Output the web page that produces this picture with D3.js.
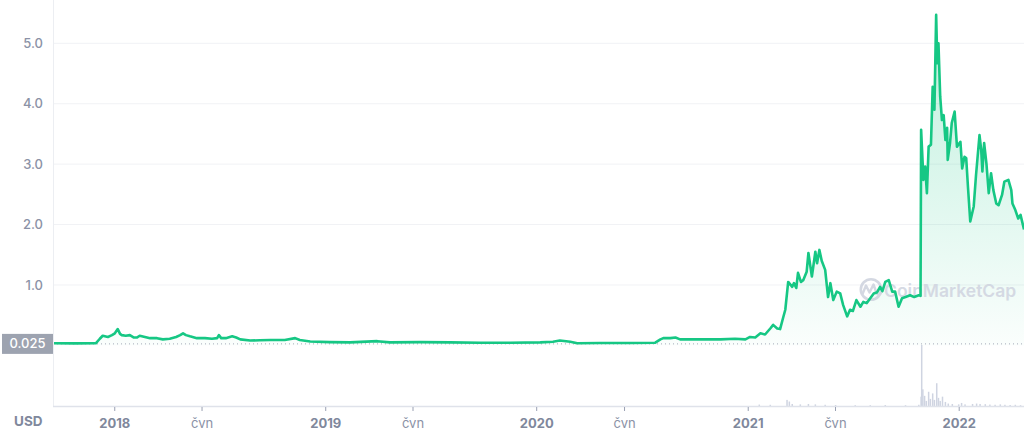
<!DOCTYPE html>
<html><head><meta charset="utf-8">
<script src="https://cdn.jsdelivr.net/npm/d3@7"></script>
<style>
body{margin:0;background:#fff;}
svg{display:block;font-family:Inter,"Noto Sans",sans-serif;}
</style>
</head><body>
<svg id="c" width="1024" height="434"></svg>
<script>
const priceDates = ["2017-09-17","2017-10-25","2017-11-30","2017-12-07","2017-12-12","2017-12-21","2017-12-28","2018-01-02","2018-01-07","2018-01-11","2018-01-14","2018-01-21","2018-01-28","2018-02-04","2018-02-09","2018-02-14","2018-02-23","2018-03-04","2018-03-16","2018-03-26","2018-04-07","2018-04-18","2018-04-25","2018-04-30","2018-05-05","2018-05-12","2018-05-24","2018-06-07","2018-06-19","2018-06-28","2018-07-01","2018-07-05","2018-07-13","2018-07-24","2018-07-31","2018-08-07","2018-08-24","2018-09-10","2018-09-28","2018-10-23","2018-11-10","2018-11-18","2018-12-06","2019-01-09","2019-02-13","2019-04-01","2019-04-23","2019-06-14","2019-08-05","2019-09-26","2019-11-17","2020-01-08","2020-01-30","2020-02-11","2020-02-29","2020-03-12","2020-04-21","2020-06-12","2020-07-25","2020-08-03","2020-08-08","2020-08-20","2020-08-29","2020-09-06","2020-10-11","2020-11-15","2020-12-10","2020-12-28","2021-01-05","2021-01-14","2021-01-23","2021-01-31","2021-02-09","2021-02-14","2021-02-21","2021-02-26","2021-03-03","2021-03-07","2021-03-12","2021-03-19","2021-03-22","2021-03-26","2021-03-29","2021-04-03","2021-04-07","2021-04-13","2021-04-16","2021-04-22","2021-04-28","2021-05-01","2021-05-05","2021-05-09","2021-05-15","2021-05-20","2021-05-24","2021-05-29","2021-06-04","2021-06-10","2021-06-15","2021-06-22","2021-06-27","2021-07-02","2021-07-08","2021-07-15","2021-07-20","2021-07-26","2021-08-01","2021-08-07","2021-08-13","2021-08-18","2021-08-22","2021-08-27","2021-09-02","2021-09-08","2021-09-13","2021-09-19","2021-09-25","2021-10-01","2021-10-09","2021-10-16","2021-10-24","2021-10-27","2021-10-28","2021-11-01","2021-11-04","2021-11-07","2021-11-10","2021-11-14","2021-11-17","2021-11-20","2021-11-23","2021-11-25","2021-11-27","2021-11-30","2021-12-03","2021-12-06","2021-12-09","2021-12-12","2021-12-13","2021-12-17","2021-12-20","2021-12-25","2021-12-29","2022-01-04","2022-01-07","2022-01-11","2022-01-14","2022-01-17","2022-01-21","2022-01-27","2022-01-31","2022-02-06","2022-02-09","2022-02-11","2022-02-14","2022-02-18","2022-02-22","2022-02-26","2022-03-02","2022-03-07","2022-03-11","2022-03-17","2022-03-21","2022-03-28","2022-04-02","2022-04-04","2022-04-09","2022-04-14","2022-04-18","2022-04-24"];
const priceValues = [0.035,0.033,0.035,0.11,0.16,0.14,0.17,0.20,0.27,0.19,0.17,0.16,0.17,0.13,0.13,0.16,0.14,0.12,0.12,0.10,0.11,0.14,0.17,0.20,0.17,0.15,0.12,0.12,0.11,0.12,0.17,0.12,0.12,0.15,0.13,0.10,0.08,0.085,0.09,0.09,0.12,0.09,0.065,0.055,0.05,0.07,0.05,0.055,0.05,0.045,0.045,0.05,0.06,0.08,0.06,0.035,0.04,0.04,0.045,0.10,0.12,0.12,0.13,0.10,0.10,0.10,0.11,0.10,0.14,0.13,0.20,0.18,0.28,0.34,0.28,0.27,0.45,0.59,1.05,0.97,1.03,0.95,1.20,1.05,1.08,1.22,1.53,1.14,1.55,1.36,1.58,1.40,1.25,0.80,1.03,0.75,0.89,0.86,0.67,0.48,0.59,0.57,0.75,0.64,0.72,0.70,0.78,0.86,0.88,0.97,0.90,1.05,1.08,0.89,0.89,0.64,0.78,0.80,0.83,0.80,0.83,0.82,3.57,2.74,2.96,2.52,3.29,3.32,4.28,3.90,5.47,4.67,5.00,4.12,3.73,3.81,3.40,3.60,3.07,3.35,3.68,3.87,3.29,3.37,2.93,3.12,3.10,2.63,2.05,2.30,2.82,3.48,3.23,2.88,3.35,3.01,2.52,2.85,2.57,2.35,2.32,2.49,2.71,2.74,2.57,2.35,2.24,2.10,2.16,1.92];

const volumeDates = ["2021-01-21","2021-02-09","2021-03-10","2021-03-14","2021-03-19","2021-04-02","2021-04-16","2021-04-28","2021-05-15","2021-06-02","2021-07-06","2021-08-01","2021-08-27","2021-10-01","2021-10-24","2021-10-28","2021-10-29","2021-10-31","2021-11-03","2021-11-06","2021-11-10","2021-11-13","2021-11-17","2021-11-20","2021-11-24","2021-11-27","2021-11-30","2021-12-04","2021-12-09","2021-12-14","2021-12-21","2022-01-01","2022-01-06","2022-01-12","2022-01-25","2022-02-01","2022-02-07","2022-02-16","2022-02-24","2022-03-05","2022-03-14","2022-03-22","2022-03-31","2022-04-09","2022-04-18"];
const volumeValues = [7,6,30,22,10,8,10,8,6,5,4,4,5,4,6,46,300,82,50,25,70,35,62,30,112,40,25,46,20,12,10,8,15,8,10,12,10,9,7,6,8,6,5,6,4];

const yTickValues = [1,2,3,4,5];
const yTickLabels = ["1.0","2.0","3.0","4.0","5.0"];
const xTickDates = ["2018-01-01","2018-06-01","2019-01-01","2019-06-01","2020-01-01","2020-06-01","2021-01-01","2021-06-01","2022-01-01"];
const xTickLabels = ["2018","čvn","2019","čvn","2020","čvn","2021","čvn","2022"];
const currentPrice = 0.025;
const currentPriceLabel = "0.025";
const currencyLabel = "USD";
const watermarkText = "CoinMarketCap";

const parse = d3.utcParse("%Y-%m-%d");
const svg = d3.select("#c");
const L = 53, R = 1024, priceBase = 345.4, volBase = 406;

const x = d3.scaleUtc().domain([parse("2017-09-17"), parse("2022-04-24")]).range([L, R]);
const y = d3.scaleLinear().domain([0, 5]).range([priceBase, 43.3]);
const vy = d3.scaleLinear().domain([0, 300]).range([volBase, 345]);

const price = priceDates.map((d, i) => ({date: parse(d), value: priceValues[i]}));
const volume = volumeDates.map((d, i) => ({date: parse(d), value: volumeValues[i]}));

const defs = svg.append("defs");
const grad = defs.append("linearGradient").attr("id", "fillG")
  .attr("gradientUnits", "userSpaceOnUse").attr("x1", 0).attr("y1", 15).attr("x2", 0).attr("y2", priceBase);
grad.append("stop").attr("offset", 0).attr("stop-color", "#16c784").attr("stop-opacity", 0.28);
grad.append("stop").attr("offset", 1).attr("stop-color", "#16c784").attr("stop-opacity", 0.02);

// grid
svg.append("g").selectAll("line").data(yTickValues).join("line")
  .attr("x1", L).attr("x2", R).attr("y1", d => y(d)).attr("y2", d => y(d))
  .attr("stroke", "#f1f2f5").attr("stroke-width", 1);

// volume bars
svg.append("g").selectAll("rect").data(volume).join("rect")
  .attr("x", d => x(d.date) - 0.75).attr("width", 1.5)
  .attr("y", d => vy(d.value)).attr("height", d => volBase - vy(d.value))
  .attr("fill", "#cfd4e1");

// area
const area = d3.area().x(d => x(d.date)).y0(priceBase).y1(d => y(d.value));
const line = d3.line().x(d => x(d.date)).y(d => y(d.value));
svg.append("path").datum(price).attr("d", area).attr("fill", "url(#fillG)");

// watermark
const wm = svg.append("g").attr("opacity", 0.85);
wm.append("circle").attr("cx", 871).attr("cy", 289.5).attr("r", 10.2)
  .attr("fill", "none").attr("stroke", "#cdd2de").attr("stroke-width", 2.6);
wm.append("path").attr("d", "M862.5,294 L866,285.5 L869.5,292.5 L873.5,284.5 L876.5,293 Q879,297 882,291")
  .attr("fill", "none").attr("stroke", "#cdd2de").attr("stroke-width", 2.4).attr("stroke-linejoin", "round");
wm.append("text").attr("x", 884).attr("y", 296.5).attr("font-size", 17.5).attr("font-weight", 600)
  .attr("fill", "#d0d4e0").text(watermarkText);

// current price dotted line
svg.append("line").attr("x1", L).attr("x2", R).attr("y1", y(currentPrice)).attr("y2", y(currentPrice))
  .attr("stroke", "#a6abb8").attr("stroke-width", 1).attr("stroke-dasharray", "1,3");

svg.append("path").datum(price).attr("d", line).attr("fill", "none")
  .attr("stroke", "#16c784").attr("stroke-width", 2.6).attr("stroke-linejoin", "round");

// axes lines
svg.append("line").attr("x1", L + 0.5).attr("x2", L + 0.5).attr("y1", 0).attr("y2", volBase)
  .attr("stroke", "#eceef2");
svg.append("line").attr("x1", L).attr("x2", R).attr("y1", volBase + 0.5).attr("y2", volBase + 0.5)
  .attr("stroke", "#dfe2ea").attr("stroke-width", 1.5);

// y axis
const yAxis = d3.axisLeft(y).tickValues(yTickValues).tickSize(0).tickPadding(10)
  .tickFormat((d, i) => yTickLabels[i]);
const gy = svg.append("g").attr("transform", `translate(${L},0)`).call(yAxis);
gy.select(".domain").remove();
gy.selectAll("text").attr("font-size", 13).attr("font-weight", 500).attr("fill", "#8b92a6")
  .attr("font-family", "Inter,'Noto Sans',sans-serif");

// x axis
const xAxis = d3.axisBottom(x).tickValues(xTickDates.map(parse)).tickSize(4).tickPadding(8)
  .tickFormat((d, i) => xTickLabels[i]);
const gx = svg.append("g").attr("transform", `translate(0,${volBase + 1})`).call(xAxis);
gx.select(".domain").remove();
gx.selectAll(".tick line").attr("stroke", "#9aa1b3");
gx.selectAll("text").attr("font-size", 13).attr("font-family", "Inter,'Noto Sans',sans-serif")
  .attr("font-weight", (d, i) => xTickLabels[i] === "čvn" ? 400 : 700)
  .attr("fill", (d, i) => xTickLabels[i] === "čvn" ? "#8b92a6" : "#80889c");

svg.append("text").attr("x", 14).attr("y", 426).attr("font-size", 13.5).attr("font-weight", 700)
  .attr("fill", "#80889c").text(currencyLabel);

// current price label
svg.append("rect").attr("x", 2).attr("y", y(currentPrice) - 10).attr("width", L - 2).attr("height", 20)
  .attr("fill", "#9da3b0");
svg.append("text").attr("x", (L + 2) / 2).attr("y", y(currentPrice)).attr("dy", "0.35em")
  .attr("text-anchor", "middle").attr("font-size", 13).attr("font-weight", 500)
  .attr("fill", "#fff").text(currentPriceLabel);
</script>
</body></html>
